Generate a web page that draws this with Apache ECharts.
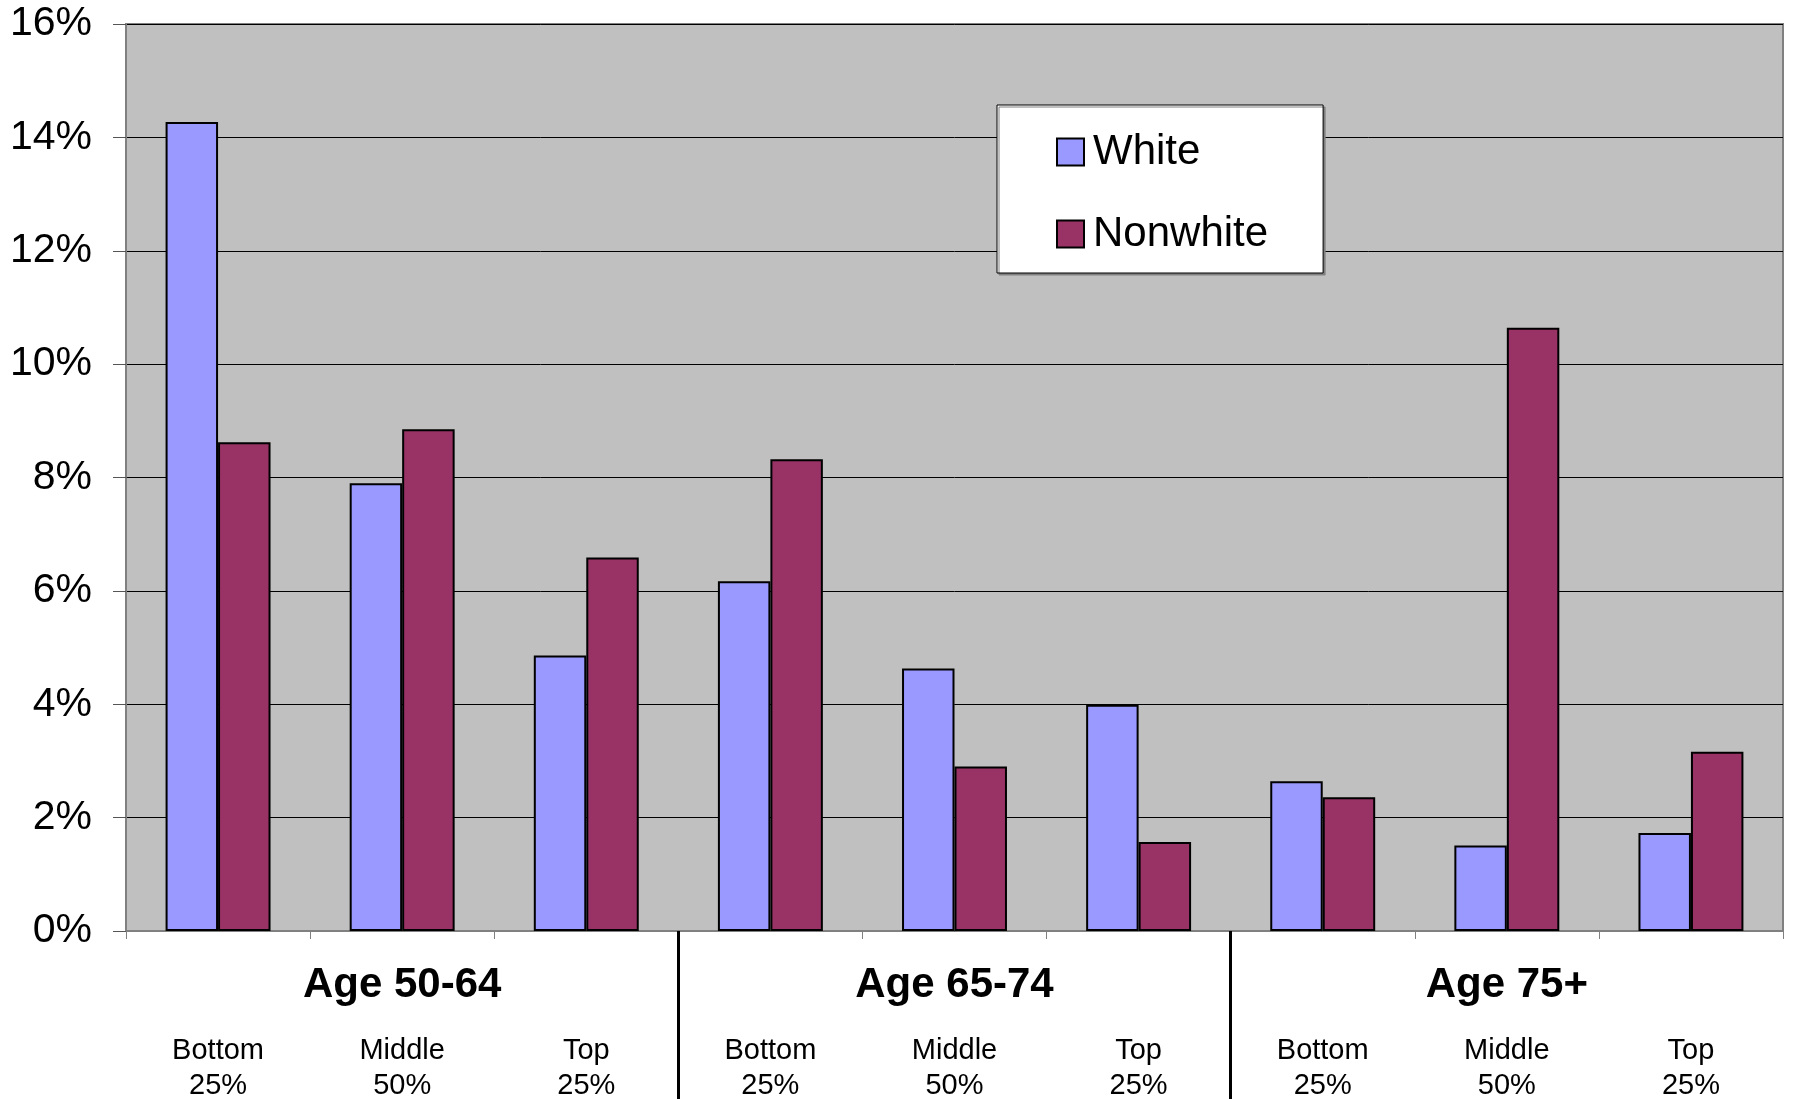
<!DOCTYPE html>
<html>
<head>
<meta charset="utf-8">
<script src="https://cdn.jsdelivr.net/npm/echarts@6/dist/echarts.min.js"></script>
<style>
html,body{margin:0;padding:0;background:#fff;}
#chart{width:1793px;height:1099px;}
</style>
</head>
<body>
<div id="chart"></div>
<script>
const categories = ['Bottom\n25%','Middle\n50%','Top\n25%','Bottom\n25%','Middle\n50%','Top\n25%','Bottom\n25%','Middle\n50%','Top\n25%'];
const groups = ['Age 50-64','Age 65-74','Age 75+'];
const boundaries = ['','','','','','','','','',''];
const whiteValues = [14.27, 7.90, 4.86, 6.17, 4.63, 3.99, 2.64, 1.51, 1.73];
const nonwhiteValues = [8.62, 8.85, 6.59, 8.32, 2.90, 1.57, 2.36, 10.64, 3.16];
const seriesNames = ['White','Nonwhite'];

const FONT = '"Liberation Sans", Arial, sans-serif';
const chart = echarts.init(document.getElementById('chart'));
chart.setOption({
  animation: false,
  grid: {
    left: 126, right: 10, top: 24, bottom: 168,
    outerBoundsMode: 'none', containLabel: false,
    show: true, backgroundColor: '#C0C0C0', borderColor: '#808080', borderWidth: 2
  },
  legend: {
    orient: 'vertical',
    left: 997, top: 105,
    data: seriesNames,
    icon: 'rect',
    itemWidth: 27, itemHeight: 27, itemGap: 40,
    padding: [26, 55, 18, 59],
    backgroundColor: '#fff', borderColor: '#000', borderWidth: 1,
    shadowColor: '#808080', shadowOffsetX: 2, shadowOffsetY: 2, shadowBlur: 0,
    textStyle: { fontFamily: FONT, fontSize: 42, color: '#000', padding: [0,0,0,4], lineHeight: 40 }
  },
  xAxis: [
    {
      type: 'category', data: categories, position: 'bottom',
      axisLine: { lineStyle: { color: '#808080', width: 1 } },
      axisTick: { show: true, length: 8, lineStyle: { color: '#808080' } },
      axisLabel: { fontFamily: FONT, fontSize: 29, color: '#000', lineHeight: 35, margin: 102, interval: 0 }
    },
    {
      type: 'category', data: groups, position: 'bottom',
      axisLine: { show: false }, axisTick: { show: false },
      axisLabel: { fontFamily: FONT, fontSize: 42, fontWeight: 'bold', color: '#000', lineHeight: 42, margin: 33, interval: 0 }
    },
    {
      type: 'category', data: boundaries, position: 'bottom', boundaryGap: false,
      axisLine: { show: false }, axisLabel: { show: false },
      axisTick: { show: true, length: 170, lineStyle: { color: '#000', width: 3 },
        interval: function (index) { return index === 3 || index === 6; } }
    }
  ],
  yAxis: {
    type: 'value', min: 0, max: 16, interval: 2,
    axisLine: { show: true, lineStyle: { color: '#808080' } },
    axisTick: { show: true, length: 13, lineStyle: { color: '#555' } },
    axisLabel: { formatter: '{value}%', fontFamily: FONT, fontSize: 41, color: '#000', margin: 34 },
    splitLine: { show: true, lineStyle: { color: '#000', width: 1 } }
  },
  series: [
    {
      name: seriesNames[0], type: 'bar', data: whiteValues, xAxisIndex: 0,
      barGap: '0%', barCategoryGap: '43%',
      itemStyle: { color: '#9999FF', borderColor: '#000', borderWidth: 2 }
    },
    {
      name: seriesNames[1], type: 'bar', data: nonwhiteValues, xAxisIndex: 0,
      barGap: '0%', barCategoryGap: '43%',
      itemStyle: { color: '#993366', borderColor: '#000', borderWidth: 2 }
    }
  ]
});
</script>
</body>
</html>
